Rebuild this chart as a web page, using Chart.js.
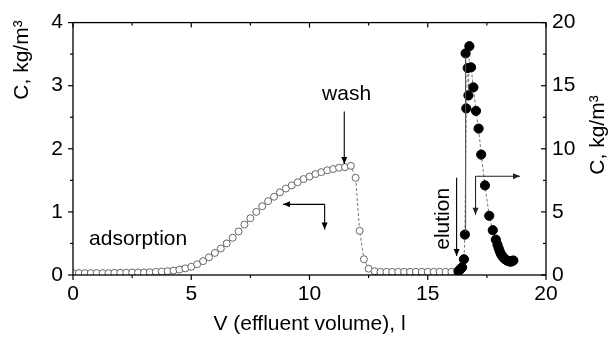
<!DOCTYPE html>
<html>
<head>
<meta charset="utf-8">
<script src="https://cdn.jsdelivr.net/npm/chart.js@4/dist/chart.umd.min.js"></script>
<style>
  body { margin: 0; background: #fff; }
  #wrap { width: 610px; height: 342px; }
</style>
</head>
<body>
<div id="wrap"><canvas id="chart"></canvas></div>
<script>
// adsorption + wash (left axis, kg/m3)
const xOpen = [0, 0.25, 0.5, 0.75, 1, 1.25, 1.5, 1.75, 2, 2.25, 2.5, 2.75, 3, 3.25, 3.5, 3.75,
  4, 4.25, 4.5, 4.75, 5, 5.25, 5.5, 5.75, 6, 6.25, 6.5, 6.75, 7, 7.25, 7.5, 7.75,
  8, 8.25, 8.5, 8.75, 9, 9.25, 9.5, 9.75, 10, 10.25, 10.5, 10.75, 11, 11.25, 11.5, 11.75,
  11.95, 12.12, 12.3, 12.5, 12.75, 13, 13.25, 13.5, 13.75, 14, 14.25, 14.5, 14.75, 15, 15.25, 15.5, 15.75, 16]
const yOpen = [0.03, 0.03, 0.03, 0.03, 0.03, 0.03, 0.03, 0.035, 0.035, 0.035, 0.04, 0.04, 0.04, 0.045, 0.05, 0.055,
  0.06, 0.07, 0.085, 0.105, 0.13, 0.17, 0.22, 0.28, 0.35, 0.42, 0.5, 0.59, 0.69, 0.8, 0.9, 1.0,
  1.09, 1.17, 1.24, 1.31, 1.37, 1.42, 1.47, 1.52, 1.56, 1.6, 1.63, 1.66, 1.68, 1.7, 1.71, 1.73,
  1.54, 0.7, 0.25, 0.1, 0.06, 0.05, 0.05, 0.05, 0.05, 0.05, 0.05, 0.05, 0.05, 0.05, 0.05, 0.05, 0.05, 0.05]

// elution (right axis, kg/m3)
const xFilled = [16.3, 16.35, 16.4, 16.45, 16.53, 16.57, 16.63, 16.6, 16.76, 16.72, 16.69, 16.83, 16.93,
  17.04, 17.15, 17.26, 17.42, 17.6, 17.75, 17.88, 17.95, 18.0, 18.05, 18.1, 18.15, 18.2, 18.27, 18.35, 18.42, 18.5, 18.57, 18.62]
const yFilled = [0.3, 0.4, 0.5, 0.6, 1.25, 3.2, 13.2, 17.56, 18.13, 14.23, 16.4, 16.46, 14.87,
  13.0, 11.6, 9.54, 7.1, 4.69, 3.55, 2.8, 2.4, 2.1, 1.85, 1.65, 1.5, 1.38, 1.25, 1.15, 1.1, 1.05, 1.1, 1.15]

const xTicks = [0, 5, 10, 15, 20]
const yTicks = [0, 1, 2, 3, 4]
const y1Ticks = [0, 5, 10, 15, 20]

const FONT = 'Arial, "Liberation Sans", Helvetica, sans-serif'
Chart.defaults.font.family = FONT
Chart.defaults.font.size = 21
Chart.defaults.color = '#000'

function line(ctx, x1, y1, x2, y2) {
    ctx.beginPath()
    ctx.moveTo(x1, y1)
    ctx.lineTo(x2, y2)
    ctx.stroke()
}

function arrow(ctx, x1, y1, x2, y2) {
    line(ctx, x1, y1, x2, y2)
    let ang = Math.atan2(y2 - y1, x2 - x1)
    ctx.beginPath()
    ctx.moveTo(x2, y2)
    ctx.lineTo(x2 - 7 * Math.cos(ang) + 3 * Math.sin(ang), y2 - 7 * Math.sin(ang) - 3 * Math.cos(ang))
    ctx.lineTo(x2 - 7 * Math.cos(ang) - 3 * Math.sin(ang), y2 - 7 * Math.sin(ang) + 3 * Math.cos(ang))
    ctx.closePath()
    ctx.fill()
}

function rotText(ctx, text, x, y) {
    ctx.save()
    ctx.translate(x, y)
    ctx.rotate(-Math.PI / 2)
    ctx.textAlign = 'center'
    ctx.textBaseline = 'middle'
    ctx.fillText(text, 0, 0)
    ctx.restore()
}

const decor = {
    id: 'decor',
    afterDraw(chart) {
        const {ctx, chartArea: a, scales: {x, y, y1}} = chart
        ctx.save()
        ctx.strokeStyle = '#000'
        ctx.fillStyle = '#000'
        ctx.lineWidth = 1.3
        ctx.strokeRect(a.left, a.top, a.right - a.left, a.bottom - a.top)

        ctx.lineWidth = 1.2
        // x ticks: bottom outward, top inward
        for (let v = 0; v <= 20; v += 2.5) {
            let px = x.getPixelForValue(v)
            let len = v % 5 === 0 ? 5 : 3
            line(ctx, px, a.bottom, px, a.bottom + len)
            line(ctx, px, a.top, px, a.top + len)
        }
        // left ticks outward
        for (let v = 0; v <= 4; v += 0.5) {
            let py = y.getPixelForValue(v)
            line(ctx, a.left, py, a.left - (v % 1 === 0 ? 5 : 3), py)
        }
        // right ticks inward
        for (let v = 0; v <= 20; v += 2.5) {
            let py = y1.getPixelForValue(v)
            line(ctx, a.right, py, a.right - (v % 5 === 0 ? 5 : 3), py)
        }

        // annotations
        ctx.font = '21px ' + FONT
        ctx.textAlign = 'center'
        ctx.textBaseline = 'alphabetic'
        ctx.fillText('wash', x.getPixelForValue(11.57), y.getPixelForValue(2.77))
        ctx.textAlign = 'left'
        ctx.fillText('adsorption', x.getPixelForValue(0.68), y.getPixelForValue(0.48))
        rotText(ctx, 'elution', x.getPixelForValue(15.65), y.getPixelForValue(0.89))

        ctx.lineWidth = 1.1
        arrow(ctx, x.getPixelForValue(11.47), y.getPixelForValue(2.59), x.getPixelForValue(11.47), y.getPixelForValue(1.76))

        let cx = x.getPixelForValue(10.64), cy = y.getPixelForValue(1.12)
        arrow(ctx, cx, cy, x.getPixelForValue(8.88), cy)
        arrow(ctx, cx, cy, cx, y.getPixelForValue(0.72))

        let ex = x.getPixelForValue(16.22)
        arrow(ctx, ex, y1.getPixelForValue(7.7), ex, y1.getPixelForValue(1.5))

        ctx.strokeStyle = '#555'
        let gx = x.getPixelForValue(16.6)
        line(ctx, gx, y1.getPixelForValue(17.3), gx, y1.getPixelForValue(3.4))

        ctx.strokeStyle = '#222'
        ctx.fillStyle = '#222'
        let rx = x.getPixelForValue(17.02), ry = y1.getPixelForValue(7.82)
        arrow(ctx, rx, ry, x.getPixelForValue(18.9), ry)
        arrow(ctx, rx, ry, rx, y1.getPixelForValue(4.77))

        // axis titles
        ctx.fillStyle = '#000'
        rotText(ctx, 'C, kg/m\u00B3', 22, 60)
        rotText(ctx, 'C, kg/m\u00B3', 598, 135)
        ctx.restore()
    }
}

const openPts = xOpen.map((v, i) => ({x: v, y: yOpen[i]}))
const filledPts = xFilled.map((v, i) => ({x: v, y: yFilled[i]}))

const config = {
    type: 'scatter',
    data: {
        datasets: [
            {
                label: 'elution',
                data: filledPts,
                yAxisID: 'y1',
                showLine: true,
                borderColor: '#777',
                borderWidth: 1,
                borderDash: [3, 2],
                pointRadius: 4.6,
                pointBackgroundColor: '#000',
                pointBorderColor: '#000',
                pointBorderWidth: 1
            },
            {
                label: 'adsorption',
                data: openPts,
                yAxisID: 'y',
                showLine: true,
                borderColor: '#777',
                borderWidth: 1,
                borderDash: [3, 2],
                pointRadius: 3.5,
                pointBackgroundColor: '#fff',
                pointBorderColor: '#666',
                pointBorderWidth: 1
            }
        ]
    },
    options: {
        responsive: true,
        maintainAspectRatio: false,
        animation: false,
        layout: { padding: { top: 15, left: 0, right: 0, bottom: 0 } },
        plugins: { legend: { display: false }, tooltip: { enabled: false } },
        scales: {
            x: {
                type: 'linear',
                min: 0,
                max: 20,
                afterBuildTicks: (s) => { s.ticks = xTicks.map(v => ({value: v})) },
                ticks: { padding: 7, font: { size: 21 } },
                grid: { display: false, drawTicks: false },
                border: { display: false },
                title: { display: true, text: 'V (effluent volume), l', font: { size: 21 }, padding: { top: 0, bottom: 5 } },
                afterFit: (s) => { s.height = 67 }
            },
            y: {
                type: 'linear',
                position: 'left',
                min: 0,
                max: 4,
                afterBuildTicks: (s) => { s.ticks = yTicks.map(v => ({value: v})) },
                ticks: { padding: 10, font: { size: 21 } },
                grid: { display: false, drawTicks: false },
                border: { display: false },
                afterFit: (s) => { s.width = 73 }
            },
            y1: {
                type: 'linear',
                position: 'right',
                min: 0,
                max: 20,
                afterBuildTicks: (s) => { s.ticks = y1Ticks.map(v => ({value: v})) },
                ticks: { padding: 6, font: { size: 21 } },
                grid: { display: false, drawTicks: false },
                border: { display: false },
                afterFit: (s) => { s.width = 64 }
            }
        }
    },
    plugins: [decor]
}

const myChart = new Chart(document.querySelector('#chart'), config)
</script>
</body>
</html>
